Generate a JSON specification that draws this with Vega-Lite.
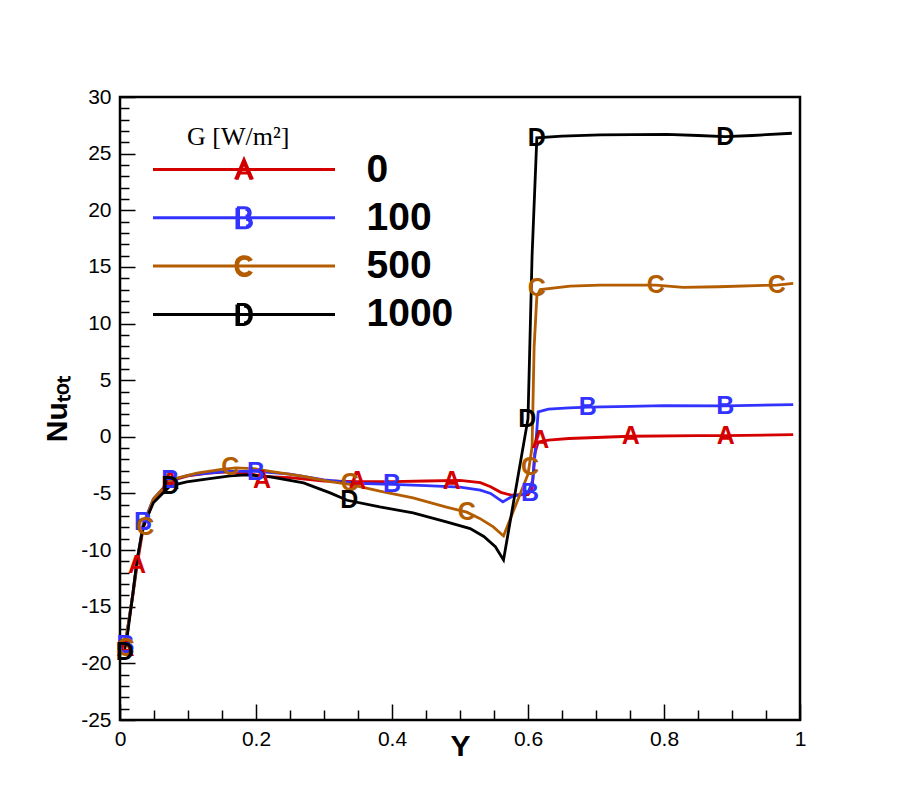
{
  "$schema": "https://vega.github.io/schema/vega-lite/v6.json",
  "width": 680,
  "height": 623,
  "autosize": "none",
  "padding": {"left": 120, "top": 97, "right": 112, "bottom": 91},
  "background": "white",
  "config": {
    "view": {"stroke": "black", "strokeWidth": 2.5},
    "font": "Liberation Sans"
  },
  "datasets": {
    "curves": [
      {"Y": 0.006, "Nu": -18.6, "G": "0"}, {"Y": 0.010, "Nu": -17.5, "G": "0"}, {"Y": 0.019, "Nu": -14.0, "G": "0"},
      {"Y": 0.025, "Nu": -11.4, "G": "0"}, {"Y": 0.034, "Nu": -8.1, "G": "0"}, {"Y": 0.049, "Nu": -5.6, "G": "0"},
      {"Y": 0.074, "Nu": -3.9, "G": "0"}, {"Y": 0.1, "Nu": -3.45, "G": "0"}, {"Y": 0.13, "Nu": -3.2, "G": "0"},
      {"Y": 0.16, "Nu": -3.1, "G": "0"}, {"Y": 0.19, "Nu": -3.25, "G": "0"}, {"Y": 0.21, "Nu": -3.5, "G": "0"},
      {"Y": 0.25, "Nu": -3.6, "G": "0"}, {"Y": 0.3, "Nu": -3.9, "G": "0"}, {"Y": 0.35, "Nu": -3.95, "G": "0"},
      {"Y": 0.4, "Nu": -3.95, "G": "0"}, {"Y": 0.45, "Nu": -3.9, "G": "0"}, {"Y": 0.5, "Nu": -3.85, "G": "0"},
      {"Y": 0.53, "Nu": -4.05, "G": "0"}, {"Y": 0.545, "Nu": -4.4, "G": "0"}, {"Y": 0.56, "Nu": -4.9, "G": "0"},
      {"Y": 0.575, "Nu": -5.15, "G": "0"}, {"Y": 0.6, "Nu": -5.1, "G": "0"}, {"Y": 0.606, "Nu": -4.6, "G": "0"},
      {"Y": 0.61, "Nu": -1.5, "G": "0"}, {"Y": 0.615, "Nu": -0.45, "G": "0"}, {"Y": 0.63, "Nu": -0.3, "G": "0"},
      {"Y": 0.66, "Nu": -0.15, "G": "0"}, {"Y": 0.75, "Nu": 0.05, "G": "0"}, {"Y": 0.85, "Nu": 0.1, "G": "0"},
      {"Y": 0.89, "Nu": 0.1, "G": "0"}, {"Y": 0.99, "Nu": 0.2, "G": "0"},

      {"Y": 0.006, "Nu": -18.4, "G": "100"}, {"Y": 0.010, "Nu": -17.4, "G": "100"}, {"Y": 0.019, "Nu": -13.8, "G": "100"},
      {"Y": 0.025, "Nu": -11.0, "G": "100"}, {"Y": 0.034, "Nu": -7.7, "G": "100"}, {"Y": 0.049, "Nu": -5.5, "G": "100"},
      {"Y": 0.074, "Nu": -3.85, "G": "100"}, {"Y": 0.1, "Nu": -3.4, "G": "100"}, {"Y": 0.13, "Nu": -3.2, "G": "100"},
      {"Y": 0.16, "Nu": -3.05, "G": "100"}, {"Y": 0.2, "Nu": -3.05, "G": "100"}, {"Y": 0.25, "Nu": -3.3, "G": "100"},
      {"Y": 0.3, "Nu": -3.8, "G": "100"}, {"Y": 0.35, "Nu": -4.1, "G": "100"}, {"Y": 0.4, "Nu": -4.2, "G": "100"},
      {"Y": 0.45, "Nu": -4.3, "G": "100"}, {"Y": 0.5, "Nu": -4.45, "G": "100"}, {"Y": 0.53, "Nu": -4.7, "G": "100"},
      {"Y": 0.545, "Nu": -5.0, "G": "100"}, {"Y": 0.563, "Nu": -5.75, "G": "100"}, {"Y": 0.577, "Nu": -5.25, "G": "100"},
      {"Y": 0.6, "Nu": -4.95, "G": "100"}, {"Y": 0.607, "Nu": -3.8, "G": "100"}, {"Y": 0.611, "Nu": -1.0, "G": "100"},
      {"Y": 0.615, "Nu": 2.2, "G": "100"}, {"Y": 0.63, "Nu": 2.45, "G": "100"}, {"Y": 0.66, "Nu": 2.55, "G": "100"},
      {"Y": 0.69, "Nu": 2.62, "G": "100"}, {"Y": 0.75, "Nu": 2.68, "G": "100"}, {"Y": 0.8, "Nu": 2.75, "G": "100"},
      {"Y": 0.89, "Nu": 2.73, "G": "100"}, {"Y": 0.99, "Nu": 2.85, "G": "100"},

      {"Y": 0.006, "Nu": -18.5, "G": "500"}, {"Y": 0.010, "Nu": -17.4, "G": "500"}, {"Y": 0.019, "Nu": -13.8, "G": "500"},
      {"Y": 0.025, "Nu": -11.0, "G": "500"}, {"Y": 0.034, "Nu": -7.9, "G": "500"}, {"Y": 0.049, "Nu": -5.5, "G": "500"},
      {"Y": 0.074, "Nu": -3.85, "G": "500"}, {"Y": 0.084, "Nu": -3.65, "G": "500"}, {"Y": 0.113, "Nu": -3.2, "G": "500"},
      {"Y": 0.147, "Nu": -2.9, "G": "500"}, {"Y": 0.17, "Nu": -2.75, "G": "500"}, {"Y": 0.196, "Nu": -2.8, "G": "500"},
      {"Y": 0.221, "Nu": -3.05, "G": "500"}, {"Y": 0.27, "Nu": -3.5, "G": "500"}, {"Y": 0.309, "Nu": -3.95, "G": "500"},
      {"Y": 0.338, "Nu": -4.2, "G": "500"}, {"Y": 0.382, "Nu": -4.8, "G": "500"}, {"Y": 0.431, "Nu": -5.4, "G": "500"},
      {"Y": 0.48, "Nu": -6.2, "G": "500"}, {"Y": 0.51, "Nu": -6.65, "G": "500"}, {"Y": 0.529, "Nu": -7.2, "G": "500"},
      {"Y": 0.549, "Nu": -7.95, "G": "500"}, {"Y": 0.564, "Nu": -8.75, "G": "500"}, {"Y": 0.6, "Nu": -3.3, "G": "500"},
      {"Y": 0.606, "Nu": -0.9, "G": "500"}, {"Y": 0.609, "Nu": 7.9, "G": "500"}, {"Y": 0.613, "Nu": 12.4, "G": "500"},
      {"Y": 0.618, "Nu": 13.0, "G": "500"}, {"Y": 0.662, "Nu": 13.3, "G": "500"}, {"Y": 0.706, "Nu": 13.4, "G": "500"},
      {"Y": 0.788, "Nu": 13.4, "G": "500"}, {"Y": 0.828, "Nu": 13.2, "G": "500"}, {"Y": 0.88, "Nu": 13.25, "G": "500"},
      {"Y": 0.966, "Nu": 13.4, "G": "500"}, {"Y": 0.99, "Nu": 13.55, "G": "500"},

      {"Y": 0.006, "Nu": -19.0, "G": "1000"}, {"Y": 0.010, "Nu": -17.9, "G": "1000"}, {"Y": 0.019, "Nu": -13.8, "G": "1000"},
      {"Y": 0.025, "Nu": -10.9, "G": "1000"}, {"Y": 0.034, "Nu": -7.95, "G": "1000"}, {"Y": 0.049, "Nu": -5.83, "G": "1000"},
      {"Y": 0.074, "Nu": -4.33, "G": "1000"}, {"Y": 0.098, "Nu": -3.98, "G": "1000"}, {"Y": 0.132, "Nu": -3.7, "G": "1000"},
      {"Y": 0.162, "Nu": -3.45, "G": "1000"}, {"Y": 0.186, "Nu": -3.36, "G": "1000"}, {"Y": 0.221, "Nu": -3.54, "G": "1000"},
      {"Y": 0.27, "Nu": -4.07, "G": "1000"}, {"Y": 0.309, "Nu": -4.95, "G": "1000"}, {"Y": 0.334, "Nu": -5.6, "G": "1000"},
      {"Y": 0.382, "Nu": -6.19, "G": "1000"}, {"Y": 0.431, "Nu": -6.72, "G": "1000"}, {"Y": 0.48, "Nu": -7.5, "G": "1000"},
      {"Y": 0.515, "Nu": -8.1, "G": "1000"}, {"Y": 0.535, "Nu": -8.8, "G": "1000"}, {"Y": 0.552, "Nu": -9.7, "G": "1000"},
      {"Y": 0.564, "Nu": -10.87, "G": "1000"},
      {"Y": 0.6, "Nu": 1.6, "G": "1000"}, {"Y": 0.606, "Nu": 16.0, "G": "1000"}, {"Y": 0.613, "Nu": 26.4, "G": "1000"},
      {"Y": 0.65, "Nu": 26.55, "G": "1000"}, {"Y": 0.706, "Nu": 26.65, "G": "1000"}, {"Y": 0.804, "Nu": 26.7, "G": "1000"},
      {"Y": 0.85, "Nu": 26.6, "G": "1000"}, {"Y": 0.89, "Nu": 26.5, "G": "1000"}, {"Y": 0.93, "Nu": 26.6, "G": "1000"},
      {"Y": 0.988, "Nu": 26.8, "G": "1000"}
    ],
    "markers": [
      {"Y": 0.008, "Nu": -18.6, "G": "0", "letter": "A"}, {"Y": 0.025, "Nu": -11.3, "G": "0", "letter": "A"},
      {"Y": 0.074, "Nu": -3.9, "G": "0", "letter": "A"}, {"Y": 0.209, "Nu": -3.8, "G": "0", "letter": "A"},
      {"Y": 0.349, "Nu": -3.9, "G": "0", "letter": "A"}, {"Y": 0.488, "Nu": -3.9, "G": "0", "letter": "A"},
      {"Y": 0.618, "Nu": -0.3, "G": "0", "letter": "A"}, {"Y": 0.751, "Nu": 0.1, "G": "0", "letter": "A"},
      {"Y": 0.891, "Nu": 0.1, "G": "0", "letter": "A"},
      {"Y": 0.008, "Nu": -18.4, "G": "100", "letter": "B"}, {"Y": 0.034, "Nu": -7.5, "G": "100", "letter": "B"},
      {"Y": 0.074, "Nu": -3.8, "G": "100", "letter": "B"}, {"Y": 0.2, "Nu": -3.1, "G": "100", "letter": "B"},
      {"Y": 0.4, "Nu": -4.16, "G": "100", "letter": "B"}, {"Y": 0.603, "Nu": -4.95, "G": "100", "letter": "B"},
      {"Y": 0.688, "Nu": 2.64, "G": "100", "letter": "B"}, {"Y": 0.89, "Nu": 2.73, "G": "100", "letter": "B"},
      {"Y": 0.008, "Nu": -18.6, "G": "500", "letter": "C"}, {"Y": 0.037, "Nu": -8.0, "G": "500", "letter": "C"},
      {"Y": 0.162, "Nu": -2.66, "G": "500", "letter": "C"}, {"Y": 0.338, "Nu": -4.1, "G": "500", "letter": "C"},
      {"Y": 0.51, "Nu": -6.6, "G": "500", "letter": "C"}, {"Y": 0.603, "Nu": -2.66, "G": "500", "letter": "C"},
      {"Y": 0.613, "Nu": 13.1, "G": "500", "letter": "C"}, {"Y": 0.788, "Nu": 13.4, "G": "500", "letter": "C"},
      {"Y": 0.966, "Nu": 13.4, "G": "500", "letter": "C"},
      {"Y": 0.007, "Nu": -19.0, "G": "1000", "letter": "D"}, {"Y": 0.074, "Nu": -4.33, "G": "1000", "letter": "D"},
      {"Y": 0.337, "Nu": -5.6, "G": "1000", "letter": "D"}, {"Y": 0.599, "Nu": 1.6, "G": "1000", "letter": "D"},
      {"Y": 0.613, "Nu": 26.4, "G": "1000", "letter": "D"}, {"Y": 0.89, "Nu": 26.5, "G": "1000", "letter": "D"}
    ]
  },
  "encoding": {
    "x": {
      "field": "Y",
      "type": "quantitative",
      "scale": {"domain": [0, 1], "nice": false, "zero": false},
      "axis": {
        "title": "Y",
        "values": [0, 0.05, 0.1, 0.15, 0.2, 0.25, 0.3, 0.35, 0.4, 0.45, 0.5, 0.55, 0.6, 0.65, 0.7, 0.75, 0.8, 0.85, 0.9, 0.95, 1],
        "labelExpr": "abs(datum.value * 5 - round(datum.value * 5)) < 0.000001 ? '' + datum.value : ''",
        "tickSize": {"condition": {"test": "abs(datum.value * 5 - round(datum.value * 5)) < 0.000001", "value": -16}, "value": -10},
        "tickColor": "black",
        "tickWidth": 1.5,
        "domain": false,
        "grid": false,
        "labelOverlap": false,
        "labelFlush": false,
        "labelFont": "Liberation Sans",
        "labelFontSize": 21,
        "labelColor": "black",
        "labelPadding": 24,
        "titleFont": "Liberation Sans",
        "titleFontSize": 30,
        "titleFontWeight": "bold",
        "titleColor": "black",
        "titlePadding": -24
      }
    },
    "y": {
      "field": "Nu",
      "type": "quantitative",
      "scale": {"domain": [-25, 30], "nice": false, "zero": false},
      "axis": {
        "title": "Nuₜₒₜ",
        "values": [-25, -24, -23, -22, -21, -20, -19, -18, -17, -16, -15, -14, -13, -12, -11, -10, -9, -8, -7, -6, -5, -4, -3, -2, -1, 0, 1, 2, 3, 4, 5, 6, 7, 8, 9, 10, 11, 12, 13, 14, 15, 16, 17, 18, 19, 20, 21, 22, 23, 24, 25, 26, 27, 28, 29, 30],
        "labelExpr": "datum.value % 5 === 0 ? '' + datum.value : ''",
        "tickSize": {"condition": {"test": "datum.value % 5 === 0", "value": -15}, "value": -9},
        "tickColor": "black",
        "tickWidth": 1.5,
        "domain": false,
        "grid": false,
        "labelOverlap": false,
        "labelFont": "Liberation Sans",
        "labelFontSize": 21,
        "labelColor": "black",
        "labelPadding": 24,
        "titleFont": "Liberation Sans",
        "titleFontSize": 30,
        "titleFontWeight": "bold",
        "titleColor": "black",
        "titlePadding": 8
      }
    },
    "color": {
      "field": "G",
      "type": "nominal",
      "scale": {"domain": ["0", "100", "500", "1000"], "range": ["#d40000", "#3333ff", "#b35c00", "#000000"]}
    }
  },
  "layer": [
    {
      "data": {"name": "curves"},
      "mark": {"type": "line", "strokeWidth": 2.8, "interpolate": "linear"},
      "encoding": {
        "color": {
          "field": "G",
          "type": "nominal",
          "scale": {"domain": ["0", "100", "500", "1000"], "range": ["#d40000", "#3333ff", "#b35c00", "#000000"]},
          "legend": {
            "title": "G [W/m²]",
            "orient": "none",
            "legendX": 67,
            "legendY": 27,
            "padding": 0,
            "titleFont": "Liberation Serif",
            "titleFontSize": 26,
            "titleFontWeight": "normal",
            "titleColor": "black",
            "titlePadding": 0,
            "labelFont": "Liberation Sans",
            "labelFontSize": 39,
            "labelFontWeight": "bold",
            "labelColor": "black",
            "labelOffset": 103,
            "symbolOffset": 37.5,
            "symbolSize": 400,
            "symbolStrokeWidth": 3,
            "symbolFillColor": "transparent",
            "rowPadding": 8.3,
            "encode": {
              "symbols": {
                "update": {
                  "fill": {"value": "transparent"},
                  "fillOpacity": {"value": 0},
                  "shape": {"signal": "datum.value === '0' ? 'M-9.1,0H9.1M-0.85,1L0,-1L0.85,1M-0.7,1L0,-0.7L0.7,1M-0.5,0.35H0.5' : datum.value === '100' ? 'M-9.1,0H9.1M-0.7,-1V1H0.15C0.95,1 0.95,0 0.15,0H-0.7M0.1,0C0.8,0 0.8,-1 0.1,-1H-0.7M-0.55,-1V1M0.2,0.15C0.75,0.15 0.75,0.85 0.2,0.85M0.15,-0.15C0.6,-0.15 0.6,-0.85 0.15,-0.85' : datum.value === '500' ? 'M-9.1,0H9.1M0.75,-0.55C0.5,-1.1 -0.8,-1.2 -0.8,0C-0.8,1.2 0.5,1.1 0.75,0.55M-0.65,0C-0.65,-0.9 0.3,-0.95 0.6,-0.5M-0.65,0C-0.65,0.9 0.3,0.95 0.6,0.5' : 'M-9.1,0H9.1M-0.7,-1V1H0C1,1 1,-1 0,-1H-0.7M-0.55,-0.9V0.9M0,-0.85C0.8,-0.85 0.8,0.85 0,0.85'"}
                }
              }
            }
          }
        }
      }
    },
    {
      "data": {"name": "markers"},
      "mark": {"type": "text", "font": "Liberation Sans", "fontSize": 25, "fontWeight": "bold", "align": "center", "baseline": "middle"},
      "encoding": {
        "text": {"field": "letter"},
        "color": {
          "field": "G",
          "type": "nominal",
          "scale": {"domain": ["0", "100", "500", "1000"], "range": ["#d40000", "#3333ff", "#b35c00", "#000000"]},
          "legend": null
        }
      }
    }
  ]
}
